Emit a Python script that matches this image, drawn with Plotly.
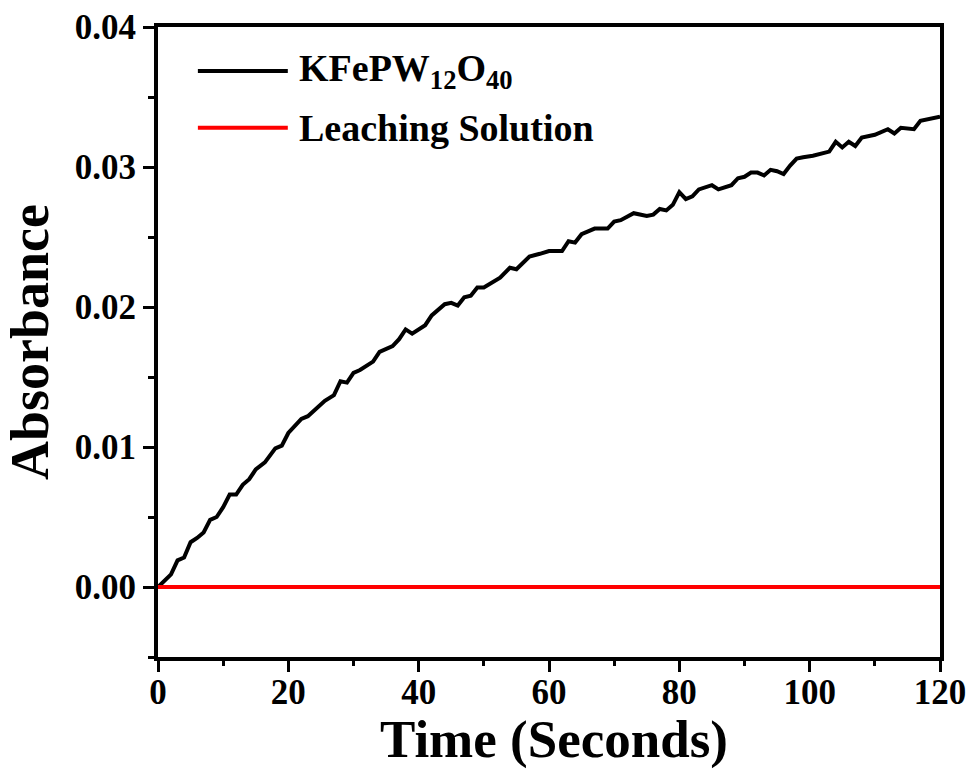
import plotly.graph_objects as go

# ---- data ----
series_names = ["KFePW<sub>12</sub>O<sub>40</sub>", "Leaching Solution"]
x_title = "Time (Seconds)"
y_title = "Absorbance"

kfe_time = [0, 2, 3, 4, 5, 6, 7, 8, 9, 10, 11, 12, 13, 14, 15, 16.4, 18, 19, 20,
            22, 23, 25.6, 27, 28, 29, 30, 31, 33, 34, 36, 37, 38, 39, 41, 42, 44,
            45, 46, 47, 48, 49, 50, 52.5, 54, 55, 57, 58.6, 60, 62, 63, 64, 65,
            66, 67, 69, 70, 71, 73, 75, 76, 77, 78, 79, 80, 81, 82, 83, 85, 86,
            88, 89, 90, 91, 92, 93, 94, 95, 96, 97, 98, 99, 100.5, 103, 104, 105,
            106, 107, 108, 110, 112, 113, 114, 116, 117, 120]
kfe_abs = [0.0, 0.0009, 0.0019, 0.0021, 0.0032, 0.0035, 0.0039, 0.0048, 0.0050,
           0.0057, 0.0066, 0.0066, 0.0073, 0.0077, 0.0084, 0.0089, 0.0099, 0.0101,
           0.0110, 0.0120, 0.0122, 0.0133, 0.0137, 0.0147, 0.0146, 0.0153, 0.0155,
           0.0161, 0.0168, 0.0172, 0.0177, 0.0184, 0.0181, 0.0187, 0.0194, 0.0202,
           0.0203, 0.0201, 0.0207, 0.0208, 0.0214, 0.0214, 0.0221, 0.0228, 0.0227,
           0.0236, 0.0238, 0.0240, 0.0240, 0.0247, 0.0246, 0.0252, 0.0254, 0.0256,
           0.0256, 0.0261, 0.0262, 0.0267, 0.0265, 0.0266, 0.0270, 0.0269, 0.0273,
           0.0282, 0.0277, 0.0279, 0.0284, 0.0287, 0.0284, 0.0287, 0.0292, 0.0293,
           0.0296, 0.0296, 0.0294, 0.0298, 0.0297, 0.0295, 0.0301, 0.0306, 0.0307,
           0.0308, 0.0311, 0.0318, 0.0314, 0.0318, 0.0315, 0.0321, 0.0323, 0.0327,
           0.0324, 0.0328, 0.0327, 0.0333, 0.0336]

leach_time = [0, 120]
leach_abs = [0.0, 0.0]

x_ticks = [0, 20, 40, 60, 80, 100, 120]
y_ticks = [0.00, 0.01, 0.02, 0.03, 0.04]

colors = ["#000000", "#ff0000"]

FONT = "Liberation Serif, Times New Roman, serif"

fig = go.Figure()
fig.add_trace(go.Scatter(x=kfe_time, y=kfe_abs, mode="lines", name=series_names[0],
                         line=dict(color=colors[0], width=4), showlegend=False))
fig.add_trace(go.Scatter(x=leach_time, y=leach_abs, mode="lines", name=series_names[1],
                         line=dict(color=colors[1], width=4), showlegend=False))

# manual legend (long line samples like the reference)
leg_y = [0.930, 0.840]
for name, col, yy in zip(series_names, colors, leg_y):
    fig.add_shape(type="line", xref="paper", yref="paper", x0=0.051, x1=0.166,
                  y0=yy, y1=yy, line=dict(color=col, width=4))
    fig.add_annotation(xref="paper", yref="paper", x=0.178, y=yy, text=name,
                       showarrow=False, xanchor="left", yanchor="middle",
                       font=dict(family=FONT, size=38, color="black", weight="bold"))

# x-axis title as annotation (precise placement)
fig.add_annotation(xref="paper", yref="paper", x=0.506, y=-0.131, text=x_title,
                   showarrow=False, xanchor="center", yanchor="middle",
                   font=dict(family=FONT, size=53, color="black", weight="bold"))

axis_common = dict(showline=True, linecolor="black", linewidth=4, mirror=True,
                   ticks="outside", ticklen=11, tickwidth=3, tickcolor="black",
                   showgrid=False, zeroline=False, automargin=False,
                   tickfont=dict(family=FONT, size=35, color="black", weight="bold"))

fig.update_xaxes(range=[0, 120], tickvals=x_ticks, ticktext=[str(v) for v in x_ticks],
                 ticklabelstandoff=-10,
                 minor=dict(ticks="outside", ticklen=5, tickwidth=3, tickcolor="black",
                            dtick=10, tick0=0),
                 **axis_common)
fig.update_yaxes(range=[-0.005, 0.04], tickvals=y_ticks,
                 ticktext=[f"{v:.2f}" for v in y_ticks],
                 minor=dict(ticks="outside", ticklen=6, tickwidth=3, tickcolor="black",
                            dtick=0.005, tick0=0),
                 title=dict(text=y_title, standoff=14,
                            font=dict(family=FONT, size=54, color="black", weight="bold")),
                 **axis_common)

fig.update_layout(width=970, height=769,
                  margin=dict(l=158, r=30, t=27, b=112),
                  plot_bgcolor="white", paper_bgcolor="white")

fig.write_html("out.html")
